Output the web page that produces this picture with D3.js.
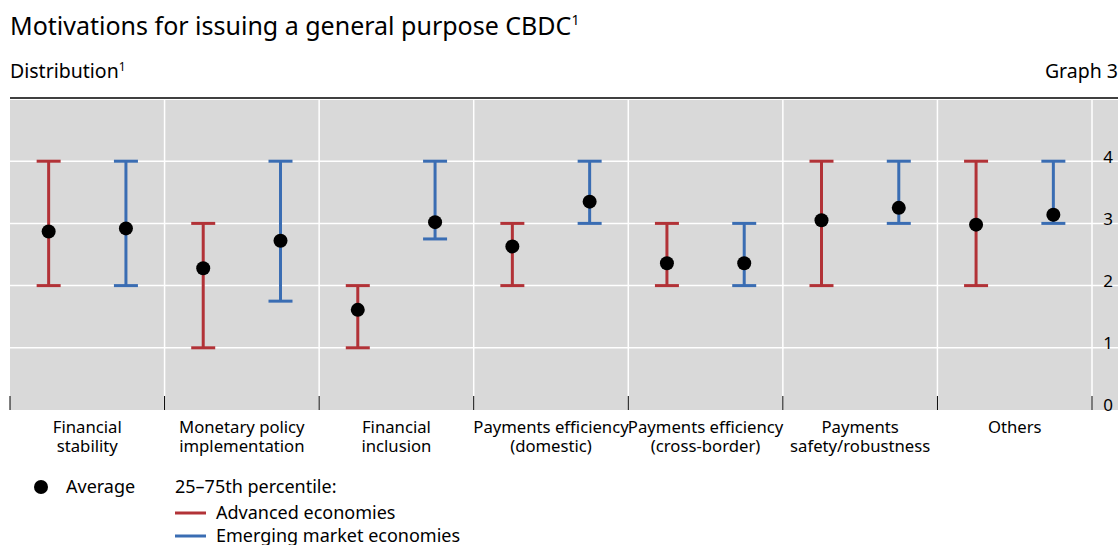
<!DOCTYPE html>
<html><head><meta charset="utf-8">
<script src="https://cdn.jsdelivr.net/npm/d3@7"></script>
<style>body{margin:0;background:#fff;} text{font-family:"Noto Sans","Open Sans",sans-serif;fill:#000;}</style>
</head><body><svg id="c" width="1120" height="545"></svg>
<script>
const categories = [["Financial","stability"],["Monetary policy","implementation"],["Financial","inclusion"],["Payments efficiency","(domestic)"],["Payments efficiency","(cross-border)"],["Payments","safety/robustness"],["Others"]];
const advLow  = [2, 1, 1, 2, 2, 2, 2];
const advHigh = [4, 3, 2, 3, 3, 4, 4];
const advAvg  = [2.87, 2.28, 1.61, 2.63, 2.36, 3.05, 2.98];
const emeLow  = [2, 1.75, 2.75, 3, 2, 3, 3];
const emeHigh = [4, 4, 4, 4, 3, 4, 4];
const emeAvg  = [2.92, 2.72, 3.02, 3.35, 2.36, 3.25, 3.14];
const yTicks = [0, 1, 2, 3, 4];

const RED = "#b23237", BLUE = "#3a6db3";
const svg = d3.select("#c");
const L = 10, R = 1092, T = 99, B = 410;
const x = d3.scaleBand().domain(d3.range(categories.length)).range([L, R]);
const y = d3.scaleLinear().domain([0, 5]).range([B, T]);

// titles
const t = svg.append("text").attr("x", 10).attr("y", 35).attr("font-size", 25);
t.append("tspan").text("Motivations for issuing a general purpose CBDC");
t.append("tspan").attr("font-size", 14).attr("dy", -10).text("1");
const s = svg.append("text").attr("x", 10).attr("y", 78).attr("font-size", 19.5);
s.append("tspan").text("Distribution");
s.append("tspan").attr("font-size", 12).attr("dy", -7).text("1");
svg.append("text").attr("x", 1118).attr("y", 78).attr("font-size", 19.5).attr("text-anchor", "end").text("Graph 3");
svg.append("line").attr("x1", 10).attr("x2", 1118).attr("y1", 98).attr("y2", 98).attr("stroke", "#000").attr("stroke-width", 1.5);

// background
svg.append("rect").attr("x", L).attr("y", T + 1).attr("width", 1118 - L).attr("height", B - T - 1).attr("fill", "#d9d9d9");

// grid
svg.append("g").selectAll("line").data(yTicks.filter(d => d > 0)).join("line")
  .attr("x1", L).attr("x2", 1118).attr("y1", d => y(d)).attr("y2", d => y(d))
  .attr("stroke", "#fff").attr("stroke-width", 1.5);
const borders = d3.range(1, categories.length + 1).map(i => L + i * x.bandwidth());
svg.append("g").selectAll("line").data(borders).join("line")
  .attr("x1", d => d).attr("x2", d => d).attr("y1", T + 1).attr("y2", B)
  .attr("stroke", "#fff").attr("stroke-width", 1.5);

// bottom ticks
svg.append("g").selectAll("line").data([L, ...borders]).join("line")
  .attr("x1", d => d).attr("x2", d => d).attr("y1", B - 14).attr("y2", B)
  .attr("stroke", "#000").attr("stroke-width", 1);

// y axis labels (right)
const ya = d3.axisRight(y).tickValues(yTicks).tickFormat(d3.format("d")).tickSize(0).tickPadding(0);
const yg = svg.append("g").attr("transform", `translate(1108,0)`).call(ya);
yg.select(".domain").remove();
yg.selectAll("text").attr("font-size", 17).attr("text-anchor", "middle").attr("font-family", '"Noto Sans",sans-serif').attr("fill", "#000").attr("dy", "0.05em");

// x labels
const xl = svg.append("g").selectAll("text").data(categories).join("text")
  .attr("x", (d, i) => x(i) + x.bandwidth() / 2).attr("y", 433)
  .attr("font-size", 16.7).attr("text-anchor", "middle");
xl.selectAll("tspan").data(d => d).join("tspan")
  .attr("x", function () { return d3.select(this.parentNode).attr("x"); })
  .attr("dy", (d, i) => i === 0 ? 0 : 19).text(d => d);

// error bars
function drawSeries(lo, hi, avg, color, frac) {
  const g = svg.append("g");
  const cx = i => x(i) + x.bandwidth() * frac;
  const cw = 12;
  g.selectAll(".v").data(lo).join("line").attr("x1", (d, i) => cx(i)).attr("x2", (d, i) => cx(i))
    .attr("y1", (d) => y(d)).attr("y2", (d, i) => y(hi[i])).attr("stroke", color).attr("stroke-width", 3);
  g.selectAll(".lo").data(lo).join("line").attr("x1", (d, i) => cx(i) - cw).attr("x2", (d, i) => cx(i) + cw)
    .attr("y1", d => y(d)).attr("y2", d => y(d)).attr("stroke", color).attr("stroke-width", 3);
  g.selectAll(".hi").data(hi).join("line").attr("x1", (d, i) => cx(i) - cw).attr("x2", (d, i) => cx(i) + cw)
    .attr("y1", d => y(d)).attr("y2", d => y(d)).attr("stroke", color).attr("stroke-width", 3);
  g.selectAll("circle").data(avg).join("circle").attr("cx", (d, i) => cx(i)).attr("cy", d => y(d))
    .attr("r", 7).attr("fill", "#000");
}
drawSeries(advLow, advHigh, advAvg, RED, 0.25);
drawSeries(emeLow, emeHigh, emeAvg, BLUE, 0.75);

// legend
svg.append("circle").attr("cx", 41).attr("cy", 487).attr("r", 7).attr("fill", "#000");
svg.append("text").attr("x", 66).attr("y", 493).attr("font-size", 18).text("Average");
svg.append("text").attr("x", 175).attr("y", 493).attr("font-size", 18).text("25–75th percentile:");
svg.append("line").attr("x1", 175).attr("x2", 206).attr("y1", 513).attr("y2", 513).attr("stroke", RED).attr("stroke-width", 3);
svg.append("text").attr("x", 216).attr("y", 519).attr("font-size", 18).text("Advanced economies");
svg.append("line").attr("x1", 175).attr("x2", 206).attr("y1", 536).attr("y2", 536).attr("stroke", BLUE).attr("stroke-width", 3);
svg.append("text").attr("x", 216).attr("y", 542).attr("font-size", 18).text("Emerging market economies");
</script></body></html>
